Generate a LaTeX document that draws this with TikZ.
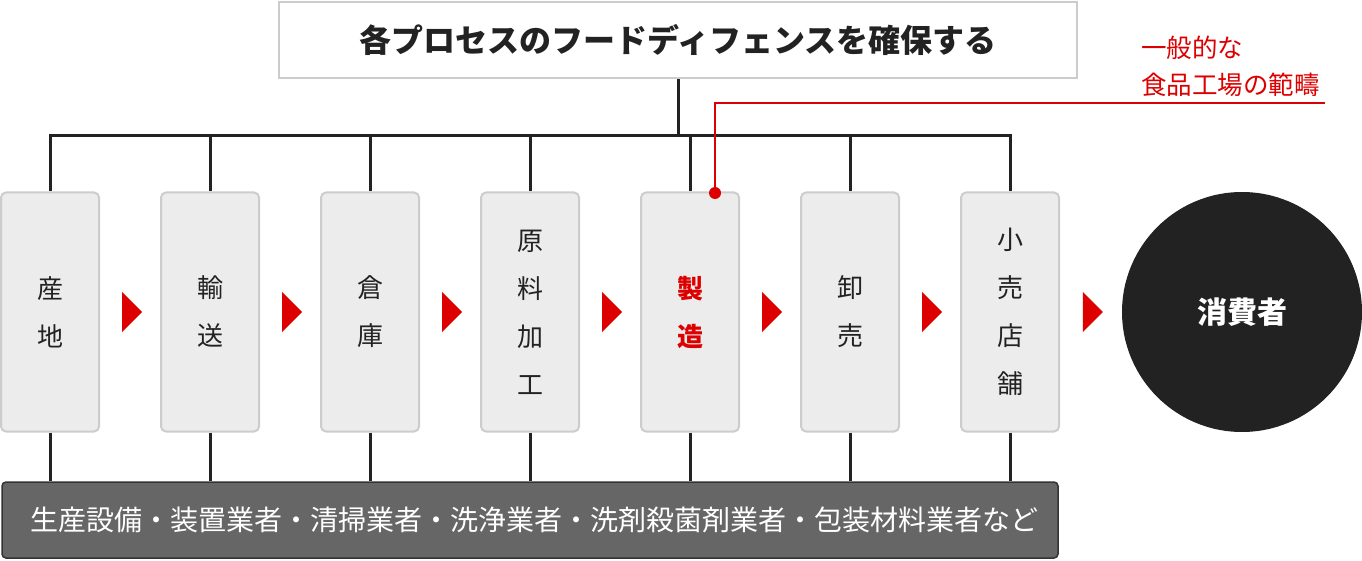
\documentclass[tikz,border=0pt]{standalone}
\usepackage{fontspec}
\setmainfont{Noto Sans CJK JP}
\usetikzlibrary{calc}
\definecolor{ink}{HTML}{222222}
\definecolor{boxfill}{HTML}{ECECEC}
\definecolor{boxline}{HTML}{CCCCCC}
\definecolor{accent}{HTML}{DD0000}
\definecolor{barfill}{HTML}{666666}
\definecolor{barline}{HTML}{333333}
\tikzset{
  procbox/.style={draw=boxline, line width=2pt, fill=boxfill, rounded corners=5pt,
    minimum width=98pt, minimum height=239pt, inner sep=0pt, align=center,
    text=ink, font=\fontsize{26}{48}\selectfont},
  titlebox/.style={draw=boxline, line width=2pt, fill=white, minimum width=798pt,
    minimum height=76pt, inner sep=0pt, font=\fontsize{32}{36}\selectfont\bfseries, text=ink},
  barbox/.style={draw=barline, line width=1.5pt, fill=barfill, rounded corners=4pt,
    minimum width=1056pt, minimum height=76pt, inner xsep=28pt, inner ysep=0pt,
    text width=1000pt, align=left, text=white, font=\fontsize{28}{32}\selectfont},
  consumer/.style={circle, fill=ink, minimum size=240pt, inner sep=0pt, text=white,
    font=\fontsize{30}{34}\selectfont\bfseries},
  bus/.style={draw=ink, line width=3pt},
  redline/.style={draw=accent, line width=2pt},
  flowarrow/.style={fill=accent},
  note/.style={text=accent, anchor=west, align=left, inner sep=0pt,
    font=\fontsize{25.5}{37}\selectfont},
}
\begin{document}
\begin{tikzpicture}[x=1pt,y=-1pt]
\useasboundingbox (0,0) rectangle (1362,561);
% title
\node[titlebox] (title) at (678,40) {各プロセスのフードディフェンスを確保する};
\coordinate (busy) at (0,136);
% process boxes
\node[procbox] (b1) at (50,312) {産\\地};
\node[procbox] (b2) at (210,312) {輸\\送};
\node[procbox] (b3) at (370,312) {倉\\庫};
\node[procbox] (b4) at (530,312) {原\\料\\加\\工};
\node[procbox, text=accent, font=\fontsize{26}{48}\selectfont\bfseries] (b5) at (690,312) {製\\造};
\node[procbox] (b6) at (850,312) {卸\\売};
\node[procbox] (b7) at (1010,312) {小\\売\\店\\舗};
\node[consumer] (c) at (1242,312) {消費者};
% bottom bar
\node[barbox] (bar) at (530,520) {生産設備・装置業者・清掃業者・洗浄業者・洗剤殺菌剤業者・包装材料業者など};
% bus lines
\draw[bus] (title.south) -- (title.south |- busy);
\draw[bus, line cap=rect] (b1.north |- busy) -- (b7.north |- busy);
\foreach \i in {1,...,7}{
  \draw[bus] (b\i.north) -- (b\i.north |- busy);
  \draw[bus] (b\i.south) -- (b\i.south |- bar.north);
}
% flow arrows
\foreach \a/\b in {b1/b2,b2/b3,b3/b4,b4/b5,b5/b6,b6/b7,b7/c}{
  \coordinate (m) at ($(\a.east)!0.5!(\b.west)$);
  \fill[flowarrow] ($(m)+(-8,-20)$) -- ($(m)+(12,0)$) -- ($(m)+(-8,20)$) -- cycle;
}
% red annotation
\node[circle, fill=accent, minimum size=12pt, inner sep=0pt] (dot) at (715,193) {};
\coordinate (rend) at (1325,103);
\draw[redline] (dot.center) -- (dot.center |- rend) -- (rend);
\node[note] (note) at (1141,66) {一般的な\\食品工場の範疇};
\end{tikzpicture}
\end{document}
